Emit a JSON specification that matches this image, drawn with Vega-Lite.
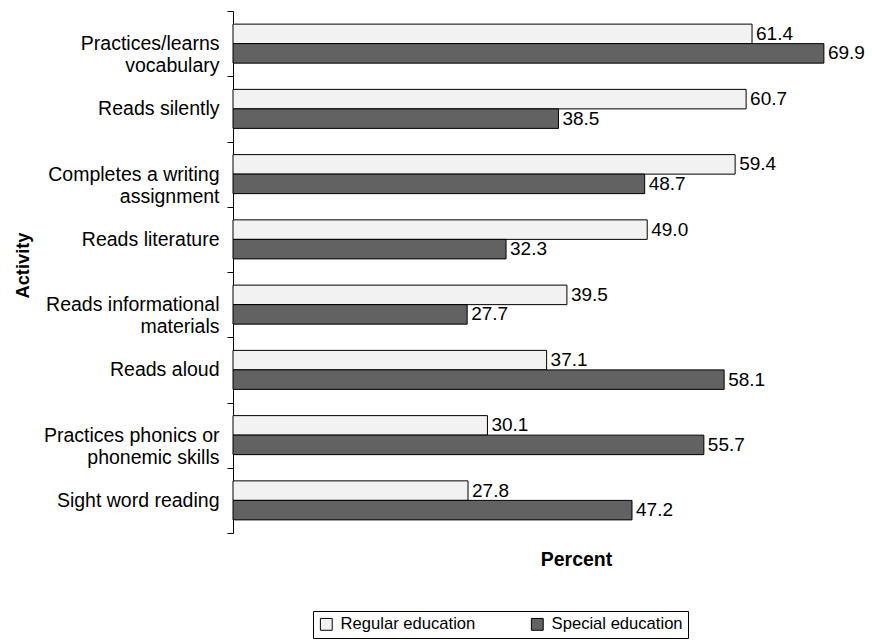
{
  "$schema": "https://vega.github.io/schema/vega-lite/v6.json",
  "width": 634,
  "height": 522,
  "autosize": "none",
  "padding": {"left": 233, "top": 11, "right": 5, "bottom": 107},
  "config": {"font": "Liberation Sans", "view": {"stroke": null}},
  "data": {
    "values": [
      {"activity": "Practices/learns|vocabulary", "group": "Regular education", "percent": 61.4},
      {"activity": "Practices/learns|vocabulary", "group": "Special education", "percent": 69.9},
      {"activity": "Reads silently", "group": "Regular education", "percent": 60.7},
      {"activity": "Reads silently", "group": "Special education", "percent": 38.5},
      {"activity": "Completes a writing|assignment", "group": "Regular education", "percent": 59.4},
      {"activity": "Completes a writing|assignment", "group": "Special education", "percent": 48.7},
      {"activity": "Reads literature", "group": "Regular education", "percent": 49.0},
      {"activity": "Reads literature", "group": "Special education", "percent": 32.3},
      {"activity": "Reads informational|materials", "group": "Regular education", "percent": 39.5},
      {"activity": "Reads informational|materials", "group": "Special education", "percent": 27.7},
      {"activity": "Reads aloud", "group": "Regular education", "percent": 37.1},
      {"activity": "Reads aloud", "group": "Special education", "percent": 58.1},
      {"activity": "Practices phonics or|phonemic skills", "group": "Regular education", "percent": 30.1},
      {"activity": "Practices phonics or|phonemic skills", "group": "Special education", "percent": 55.7},
      {"activity": "Sight word reading", "group": "Regular education", "percent": 27.8},
      {"activity": "Sight word reading", "group": "Special education", "percent": 47.2}
    ]
  },
  "encoding": {
    "y": {
      "field": "activity",
      "type": "nominal",
      "sort": null,
      "scale": {"paddingInner": 0, "paddingOuter": 0},
      "axis": {
        "title": "Activity",
        "titleFontSize": 18.3,
        "titleFontWeight": "bold",
        "titleColor": "black",
        "titleAngle": -90,
        "titleX": -210,
        "titleY": 254,
        "titleAlign": "center",
        "titleBaseline": "middle",
        "labelExpr": "split(datum.label, '|')",
        "labelFontSize": 19.5,
        "labelLineHeight": 22,
        "labelColor": "black",
        "labelPadding": 8,
        "labelLimit": 300,
        "labelAlign": "right",
        "labelBaseline": "middle",
        "tickBand": "extent",
        "tickSize": 6,
        "tickColor": "black",
        "domainColor": "black",
        "grid": false
      }
    },
    "yOffset": {
      "field": "group",
      "type": "nominal",
      "sort": ["Regular education", "Special education"],
      "scale": {"paddingOuter": 0.673, "paddingInner": 0}
    },
    "x": {
      "field": "percent",
      "type": "quantitative",
      "scale": {"domain": [0, 75]},
      "axis": {
        "title": "Percent",
        "titleFontSize": 19.5,
        "titleFontWeight": "bold",
        "titleColor": "black",
        "titleX": 343,
        "titleY": 26,
        "titleAlign": "center",
        "titleBaseline": "middle",
        "domain": false,
        "ticks": false,
        "labels": false,
        "grid": false
      }
    }
  },
  "layer": [
    {
      "mark": {"type": "bar", "stroke": "black", "strokeWidth": 1},
      "encoding": {
        "color": {
          "field": "group",
          "type": "nominal",
          "scale": {"domain": ["Regular education", "Special education"], "range": ["#f2f2f2", "#626262"]},
          "legend": {
            "title": null,
            "orient": "none",
            "legendX": 80,
            "legendY": 600,
            "direction": "horizontal",
            "columns": 2,
            "columnPadding": 53,
            "strokeColor": "black",
            "padding": 5,
            "symbolType": "square",
            "symbolSize": 140,
            "symbolStrokeColor": "black",
            "symbolStrokeWidth": 1,
            "symbolOpacity": 1,
            "labelFontSize": 16.6,
            "labelColor": "black",
            "labelOffset": 6
          }
        }
      }
    },
    {
      "mark": {"type": "text", "align": "left", "baseline": "middle", "dx": 4, "fontSize": 19, "color": "black"},
      "encoding": {
        "text": {"field": "percent", "type": "quantitative", "format": ".1f"}
      }
    }
  ]
}
